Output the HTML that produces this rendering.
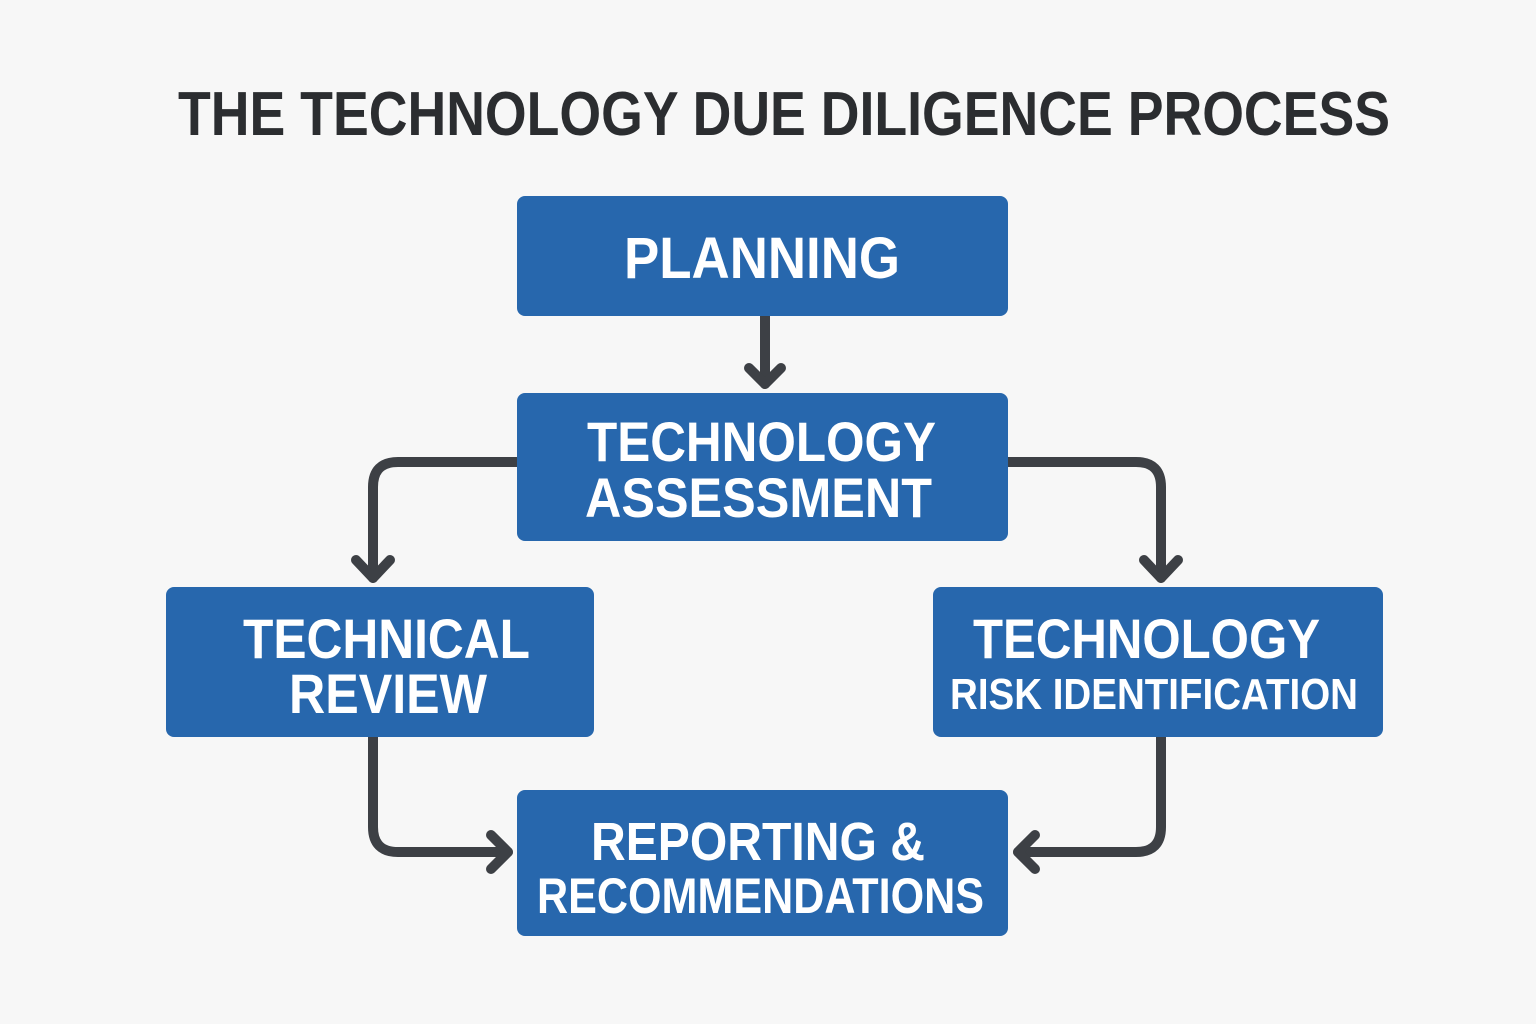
<!DOCTYPE html>
<html><head><meta charset="utf-8"><style>
html,body{margin:0;padding:0;background:#f7f7f7;}
svg{display:block;}
text{font-family:"Liberation Sans",sans-serif;font-weight:bold;}
</style></head><body>
<svg width="1536" height="1024" viewBox="0 0 1536 1024" xmlns="http://www.w3.org/2000/svg">
<rect width="1536" height="1024" fill="#f7f7f7"/>
<text x="178" y="135" font-size="62" fill="#2b2d30" textLength="1212" lengthAdjust="spacingAndGlyphs">THE TECHNOLOGY DUE DILIGENCE PROCESS</text>

<g fill="none" stroke="#3d4045" stroke-width="10" stroke-linecap="round" stroke-linejoin="round">
<path d="M765 316 L765 384"/>
<path d="M749 368 L765 384 L781 368"/>
<path d="M517 462 L398 462 Q373 462 373 487 L373 578"/>
<path d="M356 560 L373 578 L390 560"/>
<path d="M1008 462 L1136 462 Q1161 462 1161 487 L1161 578"/>
<path d="M1144 560 L1161 578 L1178 560"/>
<path d="M373 737 L373 827 Q373 852 398 852 L508 852"/>
<path d="M491 835 L508 852 L491 869"/>
<path d="M1161 737 L1161 827 Q1161 852 1136 852 L1018 852"/>
<path d="M1035 835 L1018 852 L1035 869"/>
</g>

<g fill="#2767ad">
<rect x="517" y="196" width="491" height="120" rx="8"/>
<rect x="517" y="393" width="491" height="148" rx="8"/>
<rect x="166" y="587" width="428" height="150" rx="8"/>
<rect x="933" y="587" width="450" height="150" rx="8"/>
<rect x="517" y="790" width="491" height="146" rx="8"/>
</g>

<g fill="#ffffff">
<text x="624" y="278" font-size="58" textLength="276" lengthAdjust="spacingAndGlyphs">PLANNING</text>
<text x="587" y="461" font-size="56" textLength="349" lengthAdjust="spacingAndGlyphs">TECHNOLOGY</text>
<text x="585" y="517" font-size="56" textLength="347" lengthAdjust="spacingAndGlyphs">ASSESSMENT</text>
<text x="243" y="658" font-size="56" textLength="287" lengthAdjust="spacingAndGlyphs">TECHNICAL</text>
<text x="289" y="713" font-size="56" textLength="198" lengthAdjust="spacingAndGlyphs">REVIEW</text>
<text x="973" y="658" font-size="56" textLength="347" lengthAdjust="spacingAndGlyphs">TECHNOLOGY</text>
<text x="950" y="709" font-size="44" textLength="408" lengthAdjust="spacingAndGlyphs">RISK IDENTIFICATION</text>
<text x="591" y="860" font-size="54" textLength="334" lengthAdjust="spacingAndGlyphs">REPORTING &amp;</text>
<text x="537" y="913" font-size="50" textLength="447" lengthAdjust="spacingAndGlyphs">RECOMMENDATIONS</text>
</g>
</svg>
</body></html>
